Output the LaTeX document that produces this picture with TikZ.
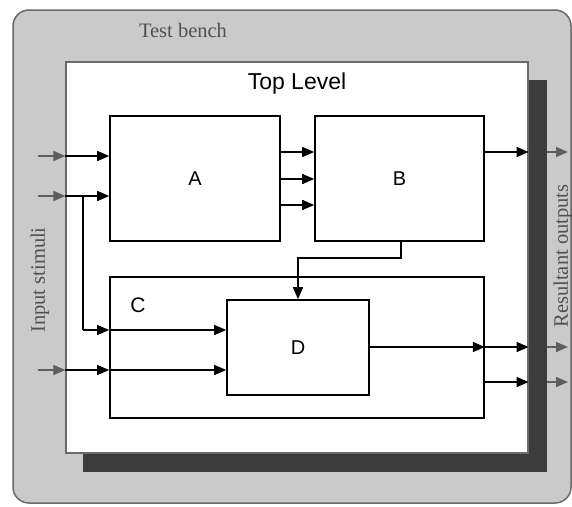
\documentclass[tikz,border=0pt]{standalone}
\usepackage{fontspec}
\setmainfont{Liberation Serif}
\newfontfamily\arialf{Liberation Sans}
\usetikzlibrary{arrows.meta}
\definecolor{benchbg}{HTML}{CACACA}
\definecolor{benchline}{HTML}{6A6A6A}
\definecolor{shadowc}{HTML}{3C3C3C}
\definecolor{grayarrow}{HTML}{5E5E5E}
\definecolor{graytext}{HTML}{505050}
\tikzset{
  blk/.style={draw=black, line width=1.6pt, fill=white, inner sep=0pt},
  sig/.style={line width=1.5pt, -{Triangle[length=12pt,width=10pt]}},
  wire/.style={line width=1.5pt},
  gsig/.style={line width=1.5pt, draw=grayarrow, -{Triangle[length=12pt,width=10pt,fill=grayarrow]}},
  lbl/.style={font=\arialf\fontsize{20}{22}\selectfont},
  gtxt/.style={text=graytext, font=\fontsize{20.5}{23}\selectfont}
}
\begin{document}
\begin{tikzpicture}[x=1pt,y=-1pt]
\useasboundingbox (0,0) rectangle (572,506);
% test bench
\draw[fill=benchbg, draw=benchline, line width=1.5pt, rounded corners=16pt] (13,10) rectangle (571,503);
\node[gtxt] (tb) at (183,30) {Test bench};
\node[gtxt, rotate=90] (ins) at (40,280) {Input stimuli};
\node[gtxt, rotate=90] (outs) at (563,256) {Resultant outputs};
% shadow
\fill[shadowc] (83,80) rectangle (547,472);
% top level
\node[draw=benchline, line width=1.2pt, fill=white, minimum width=462pt, minimum height=391pt, inner sep=0pt] (TL) at (297,257.5) {};
\node[font=\arialf\fontsize{23}{26}\selectfont] (tltxt) at (297,84) {Top Level};
% blocks
\node[blk, minimum width=170pt, minimum height=125pt] (A) at (195,178.5) {};
\node[lbl] (Atxt) at (195,178.5) {A};
\node[blk, minimum width=169pt, minimum height=125pt] (B) at (399.5,178.5) {};
\node[lbl] (Btxt) at (399.5,178.5) {B};
\node[blk, minimum width=374pt, minimum height=141pt] (C) at (297,347.5) {};
\node[font=\arialf\fontsize{21}{23}\selectfont] (Ctxt) at (138,305) {C};
\node[blk, minimum width=142pt, minimum height=95pt] (D) at (298,347.5) {};
\node[lbl] (Dtxt) at (298,347.5) {D};
% input coordinates
\coordinate (i1) at (38,156);
\coordinate (i2) at (38,196);
\coordinate (i3) at (38,370);
\coordinate (br) at (83,196);
\coordinate (brd) at (83,330);
% inputs
\draw[gsig] (i1) -- (TL.west |- i1);
\draw[gsig] (i2) -- (TL.west |- i2);
\draw[gsig] (i3) -- (TL.west |- i3);
\draw[sig] (TL.west |- i1) -- (A.west |- i1);
\draw[sig] (TL.west |- i2) -- (A.west |- i2);
\draw[wire] (br) -- (brd);
\draw[sig] (brd) -- (C.west |- brd);
\draw[sig] (C.west |- brd) -- (D.west |- brd);
\draw[sig] (TL.west |- i3) -- (C.west |- i3);
\draw[sig] (C.west |- i3) -- (D.west |- i3);
% A to B
\foreach \yy in {152,179,205}{
  \draw[sig] (A.east |- 0,\yy) -- (B.west |- 0,\yy);
}
% B out
\coordinate (o1) at (568,152);
\coordinate (o2) at (568,347);
\coordinate (o3) at (568,382);
\draw[sig] (B.east |- o1) -- (TL.east |- o1);
\draw[gsig] (547,152) -- (o1);
% B to D
\coordinate (bd1) at (401,258);
\coordinate (bd2) at (298,258);
\draw[sig] (B.south -| bd1) -- (bd1) -- (bd2) -- (D.north);
% D out
\draw[sig] (D.east |- o2) -- (C.east |- o2);
\draw[sig] (C.east |- o2) -- (TL.east |- o2);
\draw[gsig] (547,347) -- (o2);
\draw[sig] (C.east |- o3) -- (TL.east |- o3);
\draw[gsig] (547,382) -- (o3);
\end{tikzpicture}
\end{document}
